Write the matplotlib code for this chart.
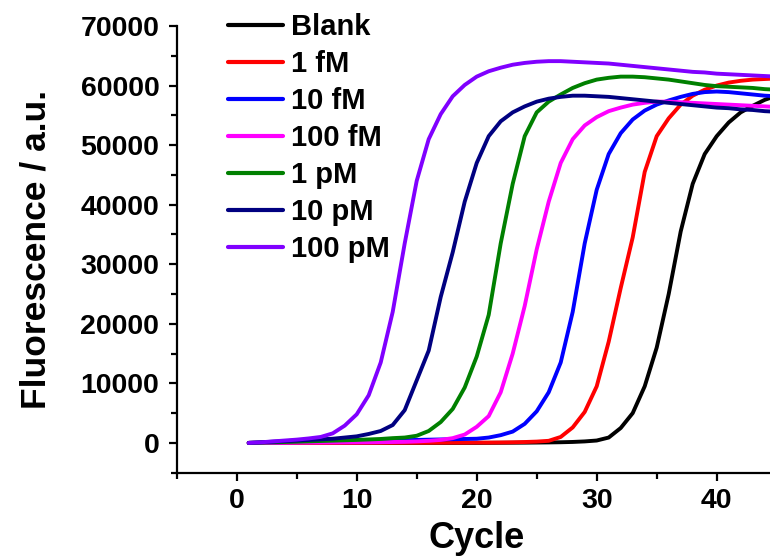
import matplotlib
matplotlib.use('Agg')
import matplotlib.pyplot as plt
import numpy as np

plt.rcParams['font.family'] = ['Liberation Sans', 'DejaVu Sans']
plt.rcParams['font.weight'] = 'bold'

cycles = np.arange(1, 46)

blank = [0, 0, 0, 0, 0, 0, 0, 0, 0, 0,
         0, 0, 0, 0, 0, 0, 0, 0, 0, 0,
         10, 20, 30, 40, 60, 80, 110, 160, 250, 400,
         900, 2500, 5000, 9500, 16000, 25000, 35500, 43500, 48500, 51500,
         53800, 55500, 56600, 57600, 58300]
fm1 = [0, 0, 0, 0, 0, 0, 0, 0, 10, 10,
       20, 20, 20, 30, 30, 30, 40, 40, 40, 50,
       50, 70, 100, 150, 220, 350, 1000, 2600, 5200, 9500,
       17000, 26000, 34500, 45500, 51500, 54500, 56800, 58300, 59300, 60000,
       60500, 60800, 61000, 61100, 61200]
fm10 = [0, 30, 60, 100, 130, 160, 190, 220, 260, 300,
        340, 380, 420, 460, 500, 540, 580, 620, 660, 700,
        900, 1300, 1900, 3200, 5300, 8500, 13500, 22000, 33500, 42500,
        48500, 52000, 54300, 55800, 56800, 57500, 58100, 58600, 58900, 59000,
        58900, 58700, 58500, 58300, 58200]
fm100 = [0, 10, 20, 30, 40, 50, 60, 70, 80, 90,
         100, 120, 150, 180, 250, 350, 500, 800, 1400, 2700,
         4500, 8500, 15000, 23000, 32500, 40500, 47000, 51000, 53300, 54700,
         55700, 56300, 56800, 57100, 57300, 57300, 57200, 57100, 57000, 56900,
         56800, 56700, 56600, 56500, 56400]
pm1 = [0, 50, 100, 150, 200, 260, 320, 380, 440, 500,
       580, 660, 800, 900, 1200, 2000, 3500, 5700, 9300, 14500,
       21500, 33500, 43500, 51500, 55500, 57300, 58500, 59600, 60400, 61000,
       61300, 61500, 61500, 61400, 61200, 61000, 60700, 60400, 60100, 59900,
       59800, 59700, 59600, 59400, 59300]
pm10 = [0, 100, 200, 300, 400, 500, 600, 700, 900, 1100,
        1500, 2000, 3000, 5500, 10500, 15500, 24500, 32000, 40500, 47000,
        51500, 54000, 55500, 56500, 57300, 57800, 58100, 58300, 58300, 58200,
        58100, 57900, 57700, 57500, 57300, 57100, 56900, 56700, 56500, 56300,
        56200, 56000, 55900, 55700, 55600]
pm100 = [0, 100, 250, 400, 550, 750, 1000, 1600, 2900, 4800,
         8000, 13500, 22000, 33500, 44000, 51000, 55200, 58200, 60100, 61500,
         62400, 63000, 63500, 63800, 64000, 64100, 64100, 64000, 63900, 63800,
         63700, 63500, 63300, 63100, 62900, 62700, 62500, 62300, 62200, 62000,
         61900, 61800, 61700, 61600, 61500]

series = [blank, fm1, fm10, fm100, pm1, pm10, pm100]
labels = ['Blank', '1 fM', '10 fM', '100 fM', '1 pM', '10 pM', '100 pM']
colors = ['#000000', '#ff0000', '#0000ff', '#ff00ff', '#008000', '#000080', '#8000ff']

fig = plt.figure(figsize=(7.7, 5.58), dpi=100)
ax = fig.add_axes([0.2295, 0.1529, 0.7792, 0.8005])

for vals, lab, col in zip(series, labels, colors):
    ax.plot(cycles, vals, color=col, lw=2.8, label=lab, solid_capstyle='round')

ax.set_xlim(-5, 45)
ax.set_ylim(-5000, 70000)
ax.set_xticks([0, 10, 20, 30, 40])
ax.set_xticks([-5, 5, 15, 25, 35, 45], minor=True)
ax.set_yticks(np.arange(0, 70001, 10000))
ax.set_yticks(np.arange(-5000, 70000, 10000), minor=True)

for side in ['top', 'right']:
    ax.spines[side].set_visible(False)
for side in ['left', 'bottom']:
    ax.spines[side].set_linewidth(1.6)

ax.tick_params(which='major', length=6, width=1.6, labelsize=20.5)
ax.tick_params(which='minor', length=4, width=1.6)
ax.tick_params(axis='x', which='major', pad=5)
ax.tick_params(axis='y', which='major', pad=6.5)
for t in ax.get_xticklabels() + ax.get_yticklabels():
    t.set_fontweight('bold')

ax.set_xlabel('Cycle', fontsize=26, fontweight='bold', labelpad=5)
ax.set_ylabel('Fluorescence / a.u.', fontsize=25.5, fontweight='bold', labelpad=20)

leg = ax.legend(loc='upper left', bbox_to_anchor=(228 / 770, 1 - 13 / 558),
                bbox_transform=fig.transFigure, frameon=False,
                prop={'size': 21, 'weight': 'bold'}, handlelength=1.9,
                handletextpad=0.25, labelspacing=0.31, borderpad=0, borderaxespad=0)
for line in leg.get_lines():
    line.set_linewidth(3)

fig.savefig('out.png', dpi=100)
